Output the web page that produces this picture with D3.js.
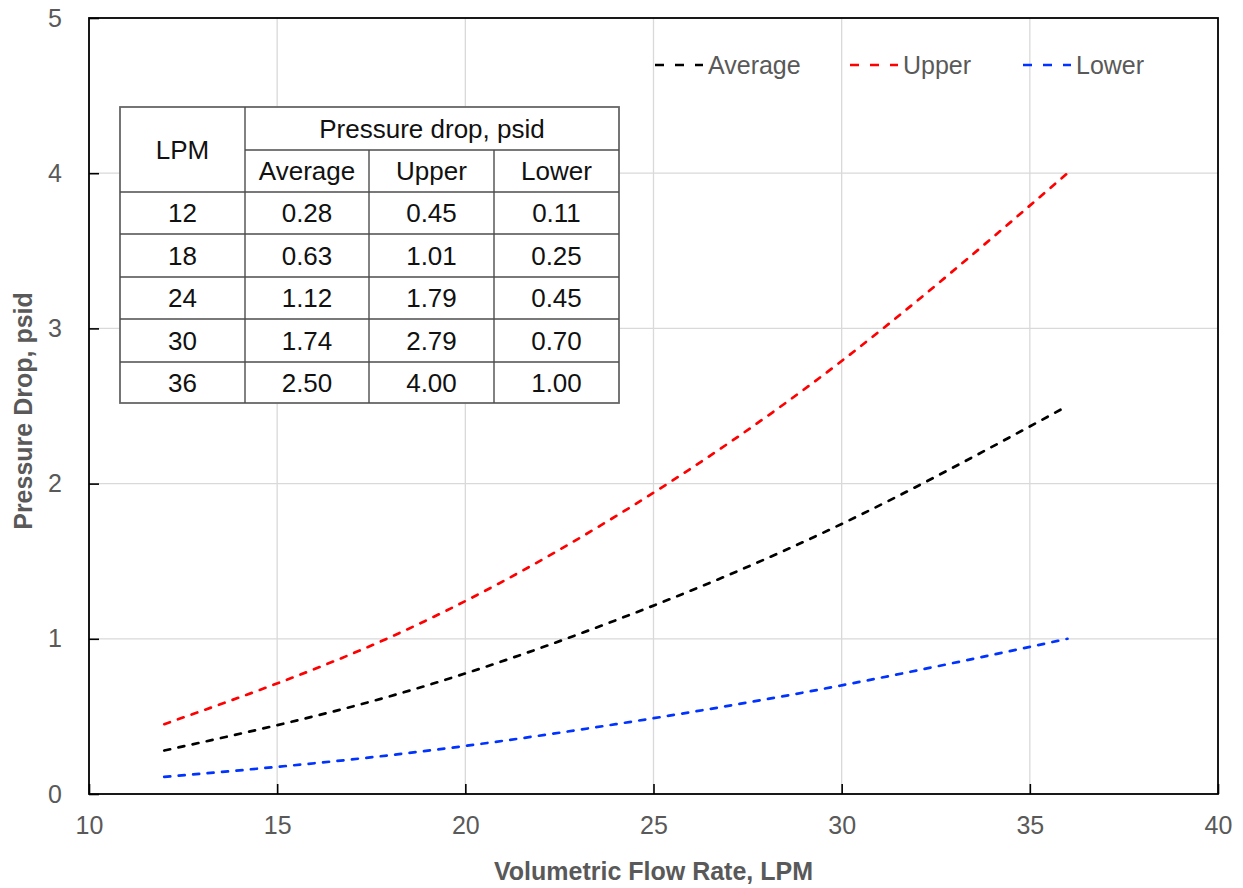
<!DOCTYPE html>
<html><head><meta charset="utf-8">
<script src="https://cdn.jsdelivr.net/npm/d3@7"></script>
<style>
html,body{margin:0;padding:0;background:#fff;}
svg{display:block;font-family:"Liberation Sans",Arial,sans-serif;}
</style></head>
<body>
<svg id="chart" width="1243" height="888"></svg>
<script>
// ---- data ----
const lpm = [12, 18, 24, 30, 36];
const avgDrop = [0.28, 0.63, 1.12, 1.74, 2.50];
const upperDrop = [0.45, 1.01, 1.79, 2.79, 4.00];
const lowerDrop = [0.11, 0.25, 0.45, 0.70, 1.00];
const seriesNames = ["Average", "Upper", "Lower"];
const seriesColors = ["#000000", "#ff0000", "#0033ff"];
const xTicks = [10, 15, 20, 25, 30, 35, 40];
const yTicks = [0, 1, 2, 3, 4, 5];
const tableFmt = d3.format(".2f");

// ---- layout ----
const svg = d3.select("#chart");
const L = 89, R = 1218, T = 18, B = 794;
const x = d3.scaleLinear().domain([10, 40]).range([L, R]);
const y = d3.scaleLinear().domain([0, 5]).range([B, T]);
const gray = "#595959";

// gridlines
svg.append("g").selectAll("line.vg").data(xTicks.slice(1, -1)).join("line")
  .attr("x1", d => x(d)).attr("x2", d => x(d)).attr("y1", T).attr("y2", B)
  .attr("stroke", "#d9d9d9").attr("stroke-width", 1.3);
svg.append("g").selectAll("line.hg").data(yTicks.slice(1, -1)).join("line")
  .attr("x1", L).attr("x2", R).attr("y1", d => y(d)).attr("y2", d => y(d))
  .attr("stroke", "#d9d9d9").attr("stroke-width", 1.3);

// axes (inward ticks)
const xAxis = svg.append("g").attr("transform", `translate(0,${B})`)
  .call(d3.axisBottom(x).tickValues(xTicks).tickSize(-10).tickPadding(22).tickFormat(d3.format("d")));
const yAxis = svg.append("g").attr("transform", `translate(${L},0)`)
  .call(d3.axisLeft(y).tickValues(yTicks).tickSize(-10).tickPadding(27).tickFormat(d3.format("d")));
[xAxis, yAxis].forEach(g => {
  g.select(".domain").remove();
  g.selectAll(".tick line").attr("stroke", "#000").attr("stroke-width", 1.6);
  g.selectAll(".tick text").attr("fill", gray).style("font-size", "25px")
    .style("font-family", "'Liberation Sans',Arial,sans-serif");
});
xAxis.selectAll(".tick text").attr("dy", "0.71em");

// frame
svg.append("rect").attr("x", L).attr("y", T).attr("width", R - L).attr("height", B - T)
  .attr("fill", "none").attr("stroke", "#000").attr("stroke-width", 1.8);

// lines
const seriesVals = [avgDrop, upperDrop, lowerDrop];
const line = d3.line().x(d => x(d[0])).y(d => y(d[1])).curve(d3.curveNatural);
seriesVals.forEach((vals, i) => {
  svg.append("path").datum(lpm.map((v, j) => [v, vals[j]]))
    .attr("d", line).attr("fill", "none").attr("stroke", seriesColors[i])
    .attr("stroke-width", 2.7).attr("stroke-linecap", "round").attr("stroke-dasharray", "6,8.5");
});

// legend
const legX = [655, 850, 1023];
const legY = 65;
seriesNames.forEach((n, i) => {
  svg.append("line").attr("x1", legX[i]).attr("x2", legX[i] + 48).attr("y1", legY).attr("y2", legY)
    .attr("stroke", seriesColors[i]).attr("stroke-width", 2.4).attr("stroke-dasharray", "9,11");
  svg.append("text").attr("x", legX[i] + 53).attr("y", legY).attr("dy", "0.36em")
    .attr("fill", gray).style("font-size", "25px").text(n);
});

// table
const tb = svg.append("g");
const colX = [120, 245, 369, 494, 619];
const rowY = [107, 150, 192, 234, 277, 319, 362, 403];
const lc = "#4d4d4d";
tb.append("rect").attr("x", colX[0]).attr("y", rowY[0]).attr("width", colX[4] - colX[0])
  .attr("height", rowY[7] - rowY[0]).attr("fill", "#fff").attr("stroke", "#666").attr("stroke-width", 1.8);
tb.append("line").attr("x1", colX[1]).attr("x2", colX[4]).attr("y1", rowY[1]).attr("y2", rowY[1])
  .attr("stroke", lc).attr("stroke-width", 1.4);
tb.selectAll("line.hr").data(rowY.slice(2, 7)).join("line")
  .attr("x1", colX[0]).attr("x2", colX[4]).attr("y1", d => d).attr("y2", d => d)
  .attr("stroke", lc).attr("stroke-width", 1.4);
tb.append("line").attr("x1", colX[1]).attr("x2", colX[1]).attr("y1", rowY[0]).attr("y2", rowY[7])
  .attr("stroke", lc).attr("stroke-width", 1.4);
tb.selectAll("line.vr").data(colX.slice(2, 4)).join("line")
  .attr("x1", d => d).attr("x2", d => d).attr("y1", rowY[1]).attr("y2", rowY[7])
  .attr("stroke", lc).attr("stroke-width", 1.4);

const cx = i => (colX[i] + colX[i + 1]) / 2;
const cy = i => (rowY[i] + rowY[i + 1]) / 2;
function cell(tx, ty, s) {
  tb.append("text").attr("x", tx).attr("y", ty).attr("dy", "0.36em").attr("text-anchor", "middle")
    .attr("fill", "#111").style("font-size", "26px").text(s);
}
cell(cx(0), (rowY[0] + rowY[2]) / 2, "LPM");
cell((colX[1] + colX[4]) / 2, cy(0), "Pressure drop, psid");
seriesNames.forEach((n, i) => cell(cx(i + 1), cy(1), n));
lpm.forEach((v, r) => {
  cell(cx(0), cy(r + 2), String(v));
  seriesVals.forEach((vals, c) => cell(cx(c + 1), cy(r + 2), tableFmt(vals[r])));
});

// axis titles
svg.append("text").attr("x", (L + R) / 2).attr("y", 880).attr("text-anchor", "middle")
  .attr("fill", gray).style("font-size", "25px").style("font-weight", "bold")
  .text("Volumetric Flow Rate, LPM");
svg.append("text").attr("transform", `translate(32,${(T + B) / 2 + 5}) rotate(-90)`)
  .attr("text-anchor", "middle").attr("fill", gray).style("font-size", "25px").style("font-weight", "bold")
  .text("Pressure Drop, psid");
</script>
</body></html>
